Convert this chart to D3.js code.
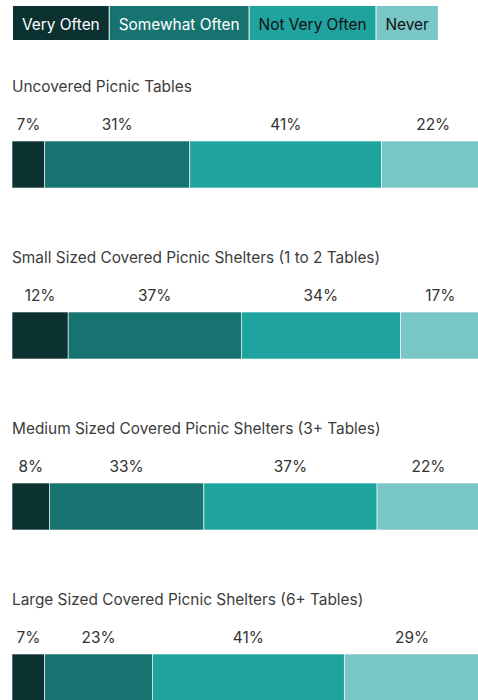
<!DOCTYPE html>
<html>
<head>
<meta charset="utf-8">
<script src="https://cdn.jsdelivr.net/npm/d3@7"></script>
<style>
  html, body { margin: 0; padding: 0; background: #fff; }
  svg { display: block; font-family: Inter, Roboto, "Noto Sans", sans-serif; }
</style>
</head>
<body>
<svg id="chart" width="478" height="700"></svg>
<script>
const seriesNames = ["Very Often", "Somewhat Often", "Not Very Often", "Never"];
const categories = [
  "Uncovered Picnic Tables",
  "Small Sized Covered Picnic Shelters (1 to 2 Tables)",
  "Medium Sized Covered Picnic Shelters (3+ Tables)",
  "Large Sized Covered Picnic Shelters (6+ Tables)"
];
const veryOften      = [7, 12, 8, 7];
const somewhatOften  = [31, 37, 33, 23];
const notVeryOften   = [41, 34, 37, 41];
const never          = [22, 17, 22, 29];
const colors = ["#0b3130", "#177370", "#1fa39f", "#79c6c6"];
const legendText = ["#ffffff", "#ffffff", "#111111", "#111111"];

const seriesValues = [veryOften, somewhatOften, notVeryOften, never];
const data = categories.map((c, i) => {
  const row = { category: c };
  seriesNames.forEach((s, j) => row[s] = seriesValues[j][i]);
  return row;
});

const svg = d3.select("#chart");
const x = d3.scaleLinear().domain([0, 100]).range([12, 480]);
const color = d3.scaleOrdinal().domain(seriesNames).range(colors);

// Legend
const legend = svg.append("g").attr("class", "legend");
let lx = 13;
seriesNames.forEach((s, i) => {
  const g = legend.append("g");
  const rect = g.append("rect").attr("y", 6).attr("height", 34).attr("fill", color(s));
  const t = g.append("text")
    .attr("x", lx + 9).attr("y", 29.5)
    .attr("font-size", 15.4)
    .attr("fill", legendText[i])
    .text(s);
  const w = t.node().getComputedTextLength() + 18;
  rect.attr("x", lx).attr("width", w);
  lx += w + 1;
});

// Groups
const stack = d3.stack().keys(seriesNames);
const stacked = stack(data);
const groupY = d3.scaleBand().domain(categories).range([0, 171 * 4]).paddingInner(0).paddingOuter(0);

categories.forEach((c, i) => {
  const g = svg.append("g").attr("transform", `translate(0,${groupY(c)})`);
  g.append("text")
    .attr("x", 12).attr("y", 92)
    .attr("font-size", 15.4)
    .attr("fill", "#3c3c3c")
    .text(c);
  stacked.forEach(layer => {
    const d = layer[i];
    g.append("rect")
      .attr("x", x(d[0]))
      .attr("width", x(d[1]) - x(d[0]))
      .attr("y", 141).attr("height", 47)
      .attr("fill", color(layer.key))
      .attr("stroke", "#fff").attr("stroke-width", 0.6);
    g.append("text")
      .attr("x", (x(d[0]) + x(d[1])) / 2)
      .attr("y", 130)
      .attr("text-anchor", "middle")
      .attr("font-size", 15.4)
      .attr("fill", "#333")
      .text(d.data[layer.key] + "%");
  });
});
</script>
</body>
</html>
